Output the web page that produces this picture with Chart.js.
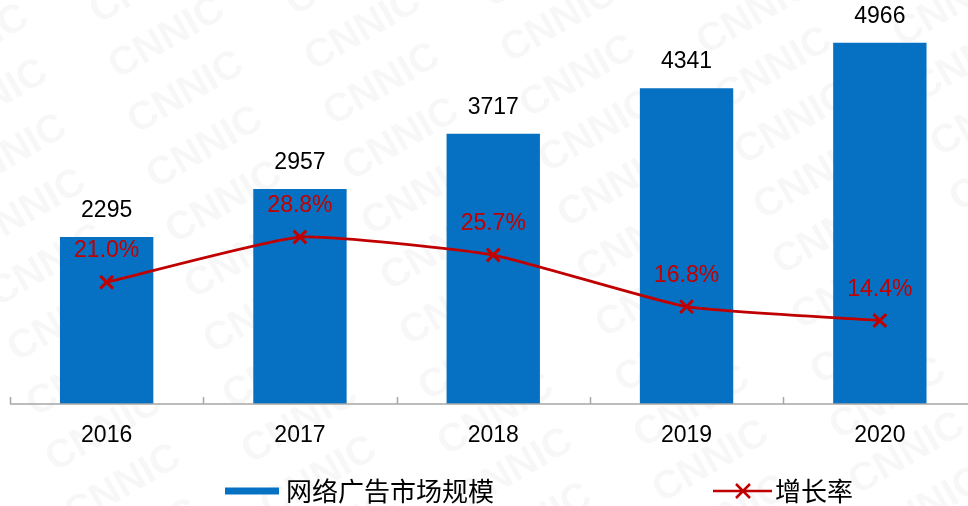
<!DOCTYPE html>
<html>
<head>
<meta charset="utf-8">
<script src="https://cdn.jsdelivr.net/npm/chart.js@4/dist/chart.umd.min.js"></script>
<style>
html,body{margin:0;padding:0;background:#fff;overflow:hidden;width:968px;height:506px;}
#wrap{width:980px;height:506px;position:relative;}
</style>
</head>
<body>
<div id="wrap"><canvas id="c" width="980" height="506"></canvas></div>
<script>
const years = ['2016', '2017', '2018', '2019', '2020'];
const marketSize = [2295, 2957, 3717, 4341, 4966];
const growthRate = [21.0, 28.8, 25.7, 16.8, 14.4];
const seriesNames = ['网络广告市场规模', '增长率'];

const BLUE = '#0671C2';
const RED = '#C00000';
const NUM_FONT = '"Liberation Sans", Arial, sans-serif';
const CJK_FONT = '"Noto Sans CJK SC", "Liberation Sans", sans-serif';

const watermark = {
  id: 'watermark',
  beforeDraw(chart) {
    const ctx = chart.ctx;
    ctx.save();
    ctx.fillStyle = '#fff';
    ctx.fillRect(0, 0, chart.width, chart.height);
    ctx.fillStyle = 'rgba(0,0,0,0.03)';
    ctx.font = 'bold 40px ' + NUM_FONT;
    ctx.textAlign = 'center';
    ctx.textBaseline = 'middle';
    for (let i = -3; i < 8; i++) {
      for (let j = -3; j < 12; j++) {
        const cx = -29 + i * 196 + j * 19;
        const cy = 46 - i * 8 + j * 55;
        if (cx < -150 || cx > 1100 || cy < -80 || cy > 600) continue;
        ctx.save();
        ctx.translate(cx, cy);
        ctx.rotate(-30 * Math.PI / 180);
        ctx.fillText('CNNIC', 0, 0);
        ctx.restore();
      }
    }
    ctx.restore();
  }
};

const decor = {
  id: 'decor',
  afterDatasetsDraw(chart) {
    const ctx = chart.ctx;
    const x = chart.scales.x;
    const ca = chart.chartArea;
    ctx.save();
    ctx.strokeStyle = '#a6a6a6';
    ctx.lineWidth = 1.5;
    ctx.beginPath();
    ctx.moveTo(ca.left, ca.bottom);
    ctx.lineTo(ca.right, ca.bottom);
    const bounds = [ca.left];
    for (let i = 1; i < years.length; i++) {
      bounds.push((x.getPixelForValue(i - 1) + x.getPixelForValue(i)) / 2);
    }
    bounds.push(ca.right);
    bounds.forEach(b => {
      ctx.moveTo(Math.round(b) + 0.5, ca.bottom);
      ctx.lineTo(Math.round(b) + 0.5, ca.bottom - 7);
    });
    ctx.stroke();

    const lineMeta = chart.getDatasetMeta(0);
    const barMeta = chart.getDatasetMeta(1);
    ctx.font = '23px ' + NUM_FONT;
    ctx.textAlign = 'center';
    ctx.textBaseline = 'alphabetic';
    ctx.fillStyle = '#000';
    barMeta.data.forEach((el, i) => {
      ctx.fillText(String(marketSize[i]), el.x, el.y - 20);
    });
    ctx.fillStyle = RED;
    lineMeta.data.forEach((el, i) => {
      ctx.fillText(growthRate[i].toFixed(1) + '%', el.x, el.y - 25);
    });

    const ly = 491;
    ctx.fillStyle = BLUE;
    ctx.fillRect(225, ly - 3.5, 54, 7);
    ctx.font = '26px ' + CJK_FONT;
    ctx.textAlign = 'left';
    ctx.textBaseline = 'middle';
    ctx.fillStyle = '#000';
    ctx.fillText(seriesNames[0], 286, ly);

    ctx.strokeStyle = RED;
    ctx.lineWidth = 2.5;
    ctx.beginPath();
    ctx.moveTo(713, ly);
    ctx.lineTo(772, ly);
    ctx.moveTo(736, ly - 7);
    ctx.lineTo(750, ly + 7);
    ctx.moveTo(750, ly - 7);
    ctx.lineTo(736, ly + 7);
    ctx.stroke();
    ctx.fillStyle = '#000';
    ctx.fillText(seriesNames[1], 775, ly);
    ctx.restore();
  }
};

new Chart(document.getElementById('c'), {
  data: {
    labels: years,
    datasets: [
      {
        type: 'line',
        label: seriesNames[1],
        data: growthRate,
        yAxisID: 'y1',
        borderColor: RED,
        borderWidth: 2.8,
        tension: 0.15,
        pointStyle: 'crossRot',
        pointRadius: 9,
        pointBorderWidth: 3,
        pointBorderColor: RED,
        pointBackgroundColor: RED,
        order: 0,
        clip: false
      },
      {
        type: 'bar',
        label: seriesNames[0],
        data: marketSize,
        yAxisID: 'y',
        backgroundColor: BLUE,
        borderWidth: 0,
        categoryPercentage: 1,
        barPercentage: 0.483,
        order: 1
      }
    ]
  },
  options: {
    responsive: false,
    animation: false,
    devicePixelRatio: 1,
    layout: { autoPadding: false, padding: { left: 10, right: 3.5, top: 4, bottom: 0 } },
    plugins: {
      legend: { display: false },
      tooltip: { enabled: false }
    },
    scales: {
      x: {
        offset: true,
        grid: { display: false },
        border: { display: false },
        ticks: {
          color: '#000',
          font: { family: NUM_FONT, size: 23 },
          padding: 10
        },
        afterFit(s) { s.height = 102; }
      },
      y: {
        display: false,
        min: 0,
        max: 5500
      },
      y1: {
        display: false,
        position: 'right',
        min: 0,
        max: 69
      }
    }
  },
  plugins: [watermark, decor]
});
</script>
</body>
</html>
